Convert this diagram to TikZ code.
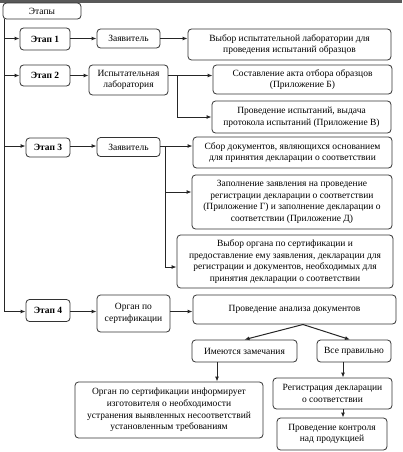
\documentclass[tikz,border=0pt]{standalone}
\usepackage{fontspec}
\setmainfont{Liberation Serif}
\usetikzlibrary{arrows.meta,calc}
\begin{document}
\begin{tikzpicture}[x=1pt,y=-1pt,
  box/.style={draw=black!80, line width=0.8pt, rounded corners=3.5pt, align=center, inner sep=1pt,
    font=\fontsize{9.5}{11.6}\selectfont, text=black},
  bbox/.style={box, font=\fontsize{9.5}{11.6}\selectfont\bfseries},
  conn/.style={draw=black!85, line width=1pt},
  arr/.style={conn, -{Latex[length=5pt,width=4pt]}},
]
\useasboundingbox (0,0) rectangle (402,452);
\fill[black!65] (0,0) rectangle (402,3);

% nodes
\node[box, minimum width=78pt, minimum height=16pt] (et) at (42,11) {Этапы};

\node[bbox, minimum width=50pt, minimum height=22pt] (e1) at (45,39) {Этап 1};
\node[box, minimum width=63pt, minimum height=19pt] (z1) at (128.5,38.5) {Заявитель};
\node[box, minimum width=203pt, minimum height=31pt] (v1) at (289.5,44.5) {Выбор испытательной лаборатории для\\проведения испытаний образцов};

\node[bbox, minimum width=50pt, minimum height=21pt] (e2) at (45,75.5) {Этап 2};
\node[box, minimum width=79pt, minimum height=30pt] (i2) at (128.5,80) {Испытательная\\лаборатория};
\node[box, minimum width=179pt, minimum height=29pt] (s2) at (302.5,79.5) {Составление акта отбора образцов\\(Приложение Б)};
\node[box, minimum width=179pt, minimum height=32pt] (p2) at (301.5,117) {Проведение испытаний, выдача\\протокола испытаний (Приложение В)};

\node[bbox, minimum width=44pt, minimum height=19pt] (e3) at (48,147.5) {Этап 3};
\node[box, minimum width=63pt, minimum height=19pt] (z3) at (128.5,147) {Заявитель};
\node[box, minimum width=199pt, minimum height=31pt] (sb3) at (292.5,152.5) {Сбор документов, являющихся основанием\\для принятия декларации о соответствии};
\node[box, minimum width=200pt, minimum height=54pt] (zp3) at (292,202) {Заполнение заявления на проведение\\регистрации декларации о соответствии\\(Приложение Г) и заполнение декларации о\\соответствии (Приложение Д)};
\node[box, minimum width=216pt, minimum height=53pt] (vo3) at (285,261.5) {Выбор органа по сертификации и\\предоставление ему заявления, декларации для\\регистрации и документов, необходимых для\\принятия декларации о соответствии};

\node[bbox, minimum width=44pt, minimum height=22pt] (e4) at (48,310.5) {Этап 4};
\node[box, minimum width=73pt, minimum height=37pt] (o4) at (133.5,313.5) {Орган по\\сертификации};
\node[box, minimum width=203pt, minimum height=29pt] (a4) at (294.5,309.5) {Проведение анализа документов};
\node[box, minimum width=105pt, minimum height=22pt] (im) at (244.5,351) {Имеются замечания};
\node[box, minimum width=74pt, minimum height=22pt] (vp) at (354,351) {Все правильно};
\node[box, minimum width=188pt, minimum height=56pt] (oi) at (169,410) {Орган по сертификации информирует\\изготовителя о необходимости\\устранения выявленных несоответствий\\установленным требованиям};
\node[box, minimum width=119pt, minimum height=31pt] (rg) at (332.5,393.5) {Регистрация декларации\\о соответствии};
\node[box, minimum width=110pt, minimum height=32pt] (pk) at (332,434) {Проведение контроля\\над продукцией};

% coordinates
\coordinate (m0) at (4,19);
\coordinate (m4) at (4,311.5);
\coordinate (r1) at (4,38.5);
\coordinate (r2) at (4,75.5);
\coordinate (r3) at (4,146);
\coordinate (b2) at (177,75.5);
\coordinate (b3) at (165,146);
\coordinate (a4s) at (303,324.5);
\coordinate (d1) at (217,0);
\coordinate (d2) at (343,0);

% main line
\draw[arr] (m0) -- (m4) -- (m4 -| e4.west);
\draw[arr] (r1) -- (r1 -| e1.west);
\draw[arr] (r2) -- (r2 -| e2.west);
\draw[arr] (r3) -- (r3 -| e3.west);

% stage 1
\draw[arr] (e1.east |- r1) -- (z1.west |- r1);
\draw[arr] (z1.east |- r1) -- (v1.west |- r1);

% stage 2
\draw[arr] (e2.east |- r2) -- (i2.west |- r2);
\draw[arr] (i2.east |- r2) -- (s2.west |- r2);
\draw[arr] (b2) -- (b2 |- p2.west) -- (p2.west);

% stage 3
\draw[arr] (e3.east |- r3) -- (z3.west |- r3);
\draw[arr] (z3.east |- r3) -- (sb3.west |- r3);
\draw[arr] (b3) |- ($(vo3.west)+(0,5.5)$);
\draw[arr] (b3 |- 0,192) -- (zp3.west |- 0,192);

% stage 4
\draw[arr] (e4.east |- m4) -- (o4.west |- m4);
\draw[arr] (o4.east |- m4) -- (a4.west |- m4);
\draw[arr] (a4s) -- (im.north);
\draw[arr] (a4s) -- ($(vp.north)+(-4,0)$);
\draw[arr] (im.south -| d1) -- (oi.north -| d1);
\draw[arr] (vp.south -| d2) -- (rg.north -| d2);
\draw[arr] (rg.south -| d2) -- (pk.north -| d2);
\end{tikzpicture}
\end{document}
